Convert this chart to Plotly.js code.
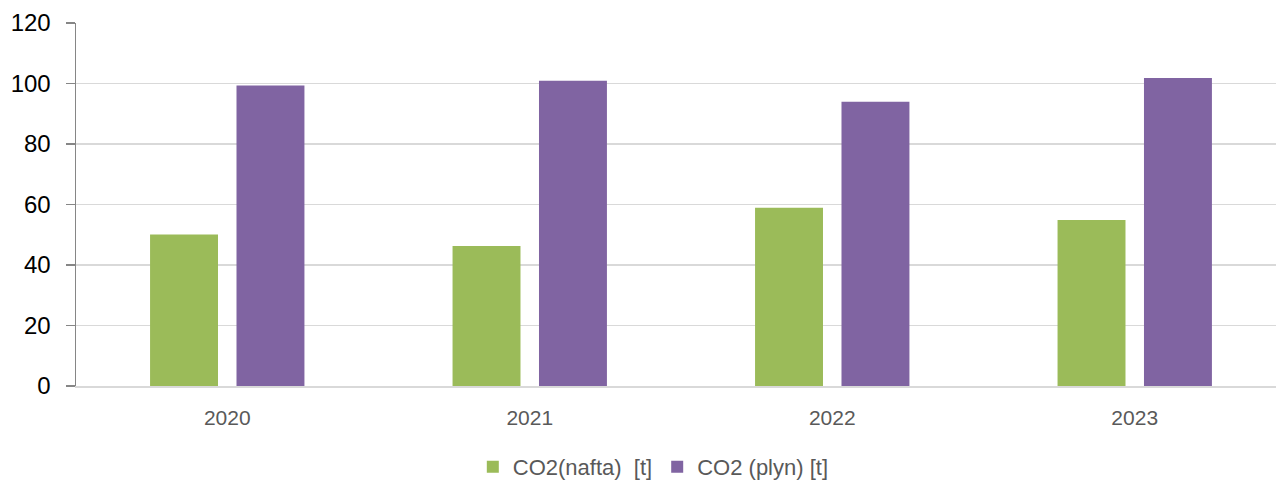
<!DOCTYPE html>
<html>
<head>
<meta charset="utf-8">
<script src="https://cdn.plot.ly/plotly-3.0.1.min.js"></script>
<style>html,body{margin:0;padding:0;background:#fff;}#chart{width:1276px;height:482px;}</style>
</head>
<body>
<div id="chart"></div>
<script>
const years = ['2020', '2021', '2022', '2023'];
const co2Nafta = [50.1, 46.3, 58.9, 54.9];
const co2Plyn = [99.3, 100.9, 94.0, 101.8];
const seriesNames = ['CO2(nafta)\u00a0 [t]', 'CO2 (plyn) [t]'];
const yTicks = [0, 20, 40, 60, 80, 100, 120];

const traces = [
  {type: 'bar', x: years, y: co2Nafta, name: seriesNames[0], marker: {color: '#9BBB59'}, hoverinfo: 'x+y+name'},
  {type: 'bar', x: years, y: co2Plyn, name: seriesNames[1], marker: {color: '#8064A2'}, hoverinfo: 'x+y+name'}
];

const layout = {
  width: 1276, height: 482,
  margin: {l: 76, r: 0, t: 23, b: 96, pad: 0},
  paper_bgcolor: '#fff', plot_bgcolor: '#fff',
  font: {family: 'Liberation Sans, Arial, sans-serif', color: '#595959'},
  barmode: 'group',
  bargap: 0.4285,
  bargroupgap: 0.214,
  xaxis: {
    type: 'category',
    range: [-0.5, 3.467],
    showgrid: false,
    showline: true, linecolor: '#d9d9d9', linewidth: 1.5,
    ticks: '',
    tickfont: {size: 21, color: '#595959'},
    ticklabelstandoff: 12,
    zeroline: false,
    fixedrange: true
  },
  yaxis: {
    range: [0, 120],
    tickvals: yTicks,
    ticktext: yTicks.map(String),
    showgrid: true, gridcolor: '#d9d9d9', gridwidth: 1.5,
    showline: true, linecolor: '#868686', linewidth: 1.5,
    ticks: 'outside', ticklen: 9, tickcolor: '#868686', tickwidth: 1.5,
    tickfont: {size: 24, color: '#000'},
    ticklabelstandoff: 10,
    zeroline: false,
    fixedrange: true
  },
  showlegend: true,
  legend: {
    orientation: 'h',
    xref: 'container', yref: 'container',
    x: 0.512, xanchor: 'center',
    y: 0.031, yanchor: 'middle',
    font: {size: 22, color: '#595959'},
    itemwidth: 30,
    tracegroupgap: 0
  }
};

Plotly.newPlot('chart', traces, layout, {displayModeBar: false, staticPlot: true});
</script>
</body>
</html>
